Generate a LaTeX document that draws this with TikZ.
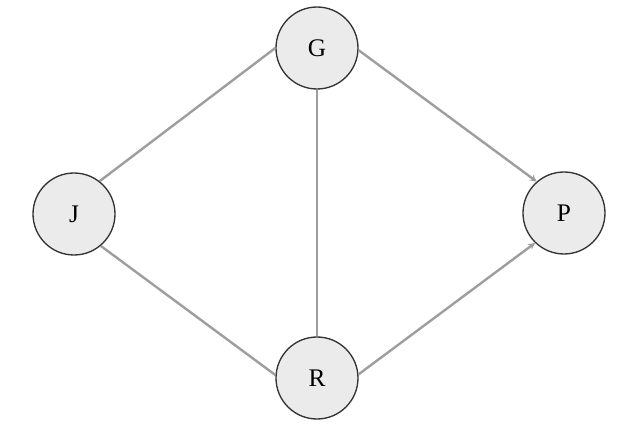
\documentclass[tikz,border=0pt]{standalone}
\usepackage{fontspec}
\setmainfont{Liberation Serif}
\usetikzlibrary{arrows.meta}
\begin{document}
\begin{tikzpicture}[x=0.75pt,y=-0.75pt,
  vert/.style={circle,draw=black!80,line width=1pt,fill=black!8,minimum size=61.5pt,inner sep=0pt,font=\fontsize{19}{21}\selectfont},
  edge/.style={draw=black!38,line width=1.8pt},
  dedge/.style={edge,-{Stealth[length=5pt,width=5pt]}}]
\useasboundingbox (0,0) rectangle (640,427);
\node[vert] (G) at (317,48) {G};
\node[vert] (J) at (74,214) {J};
\node[vert] (P) at (564,213) {P};
\node[vert] (R) at (317,378) {R};
\draw[edge] (J.52) -- (G.180);
\draw[edge] (J.-50) -- (R.176);
\draw[edge] (G.south) -- (R.north);
\draw[dedge] (G.-3) -- (P.131);
\draw[dedge] (R.5) -- (P.-134);
\end{tikzpicture}
\end{document}
